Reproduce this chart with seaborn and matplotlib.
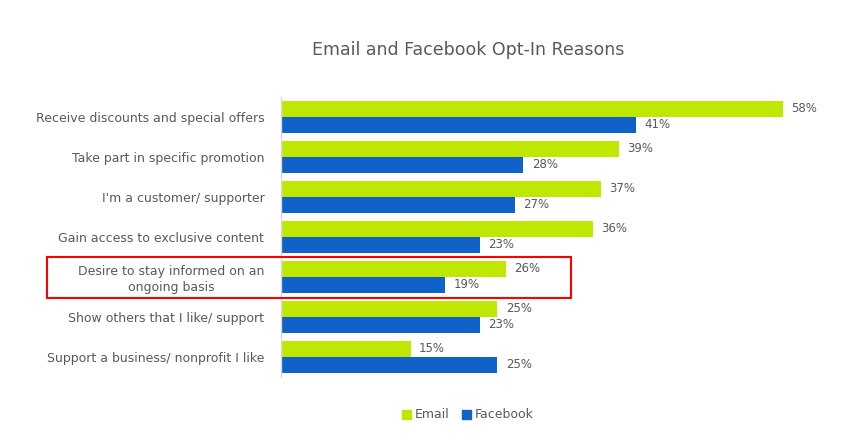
import matplotlib
matplotlib.use("Agg")
import matplotlib.pyplot as plt
import pandas as pd
import seaborn as sns
from matplotlib.patches import Rectangle

categories = [
    "Receive discounts and special offers",
    "Take part in specific promotion",
    "I'm a customer/ supporter",
    "Gain access to exclusive content",
    "Desire to stay informed on an\nongoing basis",
    "Show others that I like/ support",
    "Support a business/ nonprofit I like",
]
email = [58, 39, 37, 36, 26, 25, 15]
facebook = [41, 28, 27, 23, 19, 23, 25]
series = ["Email", "Facebook"]
colors = ["#BFE800", "#1062C8"]
text_color = "#595959"

df = pd.DataFrame({
    "reason": categories * 2,
    "pct": email + facebook,
    "channel": ["Email"] * len(categories) + ["Facebook"] * len(categories),
})

sns.set_theme(style="white")
plt.rcParams["font.family"] = ["DejaVu Sans"]

fig = plt.figure(figsize=(8.47, 4.46), dpi=100)
ax = fig.add_axes([281 / 847, 1 - 377 / 446, (820 - 281) / 847, 280 / 446])

sns.barplot(data=df, y="reason", x="pct", hue="channel", order=categories,
            hue_order=series, palette=colors, orient="h", width=0.8,
            saturation=1, linewidth=0, ax=ax, legend=True)

for container in ax.containers:
    ax.bar_label(container, labels=[f"{v:.0f}%" for v in container.datavalues],
                 padding=6, fontsize=8.5, color=text_color)

ax.set_xlim(0, (820 - 281) / 8.655)
ax.set_ylim(6.5, -0.5)
ax.set_xlabel("")
ax.set_ylabel("")
ax.set_xticks([])
for side in ["top", "right", "bottom"]:
    ax.spines[side].set_visible(False)
ax.spines["left"].set_color("#D9D9D9")
ax.spines["left"].set_linewidth(1)
ax.tick_params(axis="y", length=0, pad=12, labelsize=9, labelcolor=text_color)
for lbl in ax.get_yticklabels():
    lbl.set_horizontalalignment("right")
    lbl.set_multialignment("center")

fig.text(468 / 847, 1 - 50 / 446, "Email and Facebook Opt-In Reasons",
         ha="center", va="center", fontsize=12.5, color=text_color)

ax.legend_.remove()
handles = [Rectangle((0, 0), 1, 1, color=c) for c in colors]
fig.legend(handles, series, loc="center", bbox_to_anchor=(468 / 847, 1 - 415 / 446),
           ncol=2, frameon=False, fontsize=9, handlelength=0.7, handleheight=0.7,
           handletextpad=0.3, columnspacing=1.0, labelcolor=text_color)

# red highlight box around the "stay informed" row
fig.patches.append(Rectangle((47 / 847, 1 - 298 / 446), (571 - 47) / 847, 41 / 446,
                             transform=fig.transFigure, fill=False,
                             edgecolor="#FF0000", linewidth=1.5))

fig.savefig("out.png", dpi=100)
